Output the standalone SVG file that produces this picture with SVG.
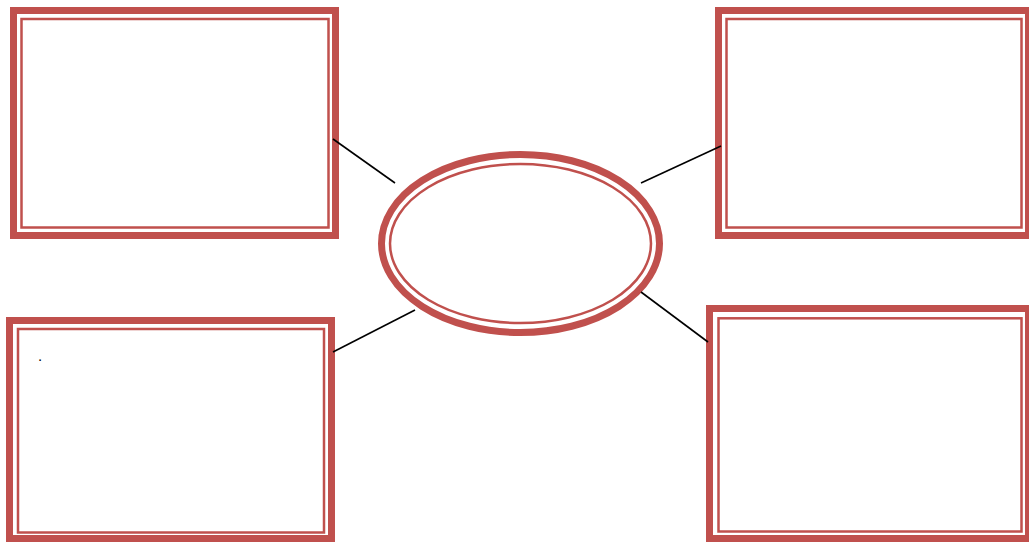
<svg xmlns="http://www.w3.org/2000/svg" width="1029" height="542" viewBox="0 0 1029 542">
<style>
.thick{fill:none;stroke:#C0504D;stroke-width:7}
.thin{fill:none;stroke:#C0504D;stroke-width:2.5}
.conn{stroke:#000;stroke-width:1.6;fill:none}
.txt{font-family:"Liberation Sans",Arial,sans-serif;font-size:15px;fill:#000}
</style>
<rect width="1029" height="542" fill="#fff"/>
<g id="box-top-left">
<rect class="thick" x="13.5" y="10.5" width="322" height="225"/>
<rect class="thin" x="21.5" y="19" width="307" height="208.5"/>
</g>
<g id="box-top-right">
<rect class="thick" x="718.5" y="10.5" width="310" height="225"/>
<rect class="thin" x="726.5" y="19" width="295" height="208.5"/>
</g>
<g id="box-bottom-left">
<rect class="thick" x="9.5" y="320.5" width="322" height="218"/>
<rect class="thin" x="18" y="329" width="306" height="203.5"/>
<text class="txt" x="38" y="361">.</text>
</g>
<g id="box-bottom-right">
<rect class="thick" x="709.5" y="308.5" width="319" height="230"/>
<rect class="thin" x="718.5" y="318.3" width="303" height="213.2"/>
</g>
<g id="center-ellipse">
<ellipse class="thick" cx="520.5" cy="243.5" rx="139" ry="89"/>
<ellipse class="thin" cx="520.5" cy="243.5" rx="130.5" ry="79.5"/>
</g>
<g id="connectors">
<line class="conn" x1="333" y1="139" x2="395" y2="183"/>
<line class="conn" x1="641" y1="183" x2="721" y2="146"/>
<line class="conn" x1="333" y1="352" x2="415" y2="310"/>
<line class="conn" x1="641" y1="292" x2="708" y2="342"/>
</g>
</svg>
